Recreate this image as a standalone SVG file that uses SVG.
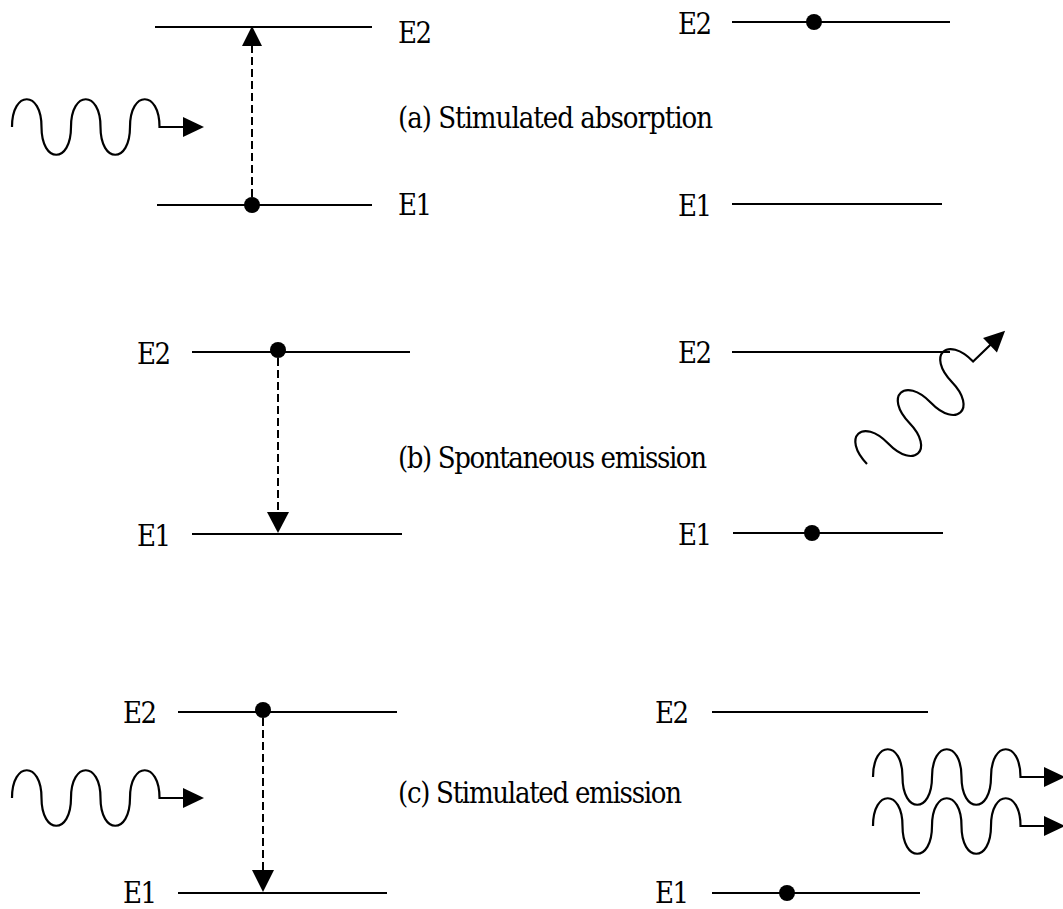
<svg xmlns="http://www.w3.org/2000/svg" xmlns:xlink="http://www.w3.org/1999/xlink" width="1063" height="909" viewBox="0 0 1063 909">
<style>
.lvl{stroke:#000;stroke-width:2;fill:none}
.dash{stroke:#000;stroke-width:2;stroke-dasharray:8 4;fill:none}
.wv{stroke:#000;stroke-width:2.2;fill:none}
.t{font-family:"DejaVu Serif Condensed","DejaVu Serif",serif;font-size:29px;fill:#000}
.dot{fill:#000}
.ah{fill:#000}
</style>
<defs>
<g id="wave">
<path class="wv" d="M0,0 C0,-37 29.5,-37 29.5,0 C29.5,37 59,37 59,0 C59,-37 88.5,-37 88.5,0 C88.5,37 118,37 118,0 C118,-37 147.5,-37 147.5,0 L172,0"/>
<polygon class="ah" points="171,-10 192,0 171,10"/>
</g>
</defs>
<rect width="1063" height="909" fill="#fff"/>

<g id="panel-a-before">
<line class="lvl" x1="155" y1="27" x2="372" y2="27"/>
<line class="lvl" x1="157" y1="205" x2="372" y2="205"/>
<text class="t" x="398" y="43" textLength="34">E2</text>
<text class="t" x="398" y="215" textLength="34">E1</text>
<circle class="dot" cx="252" cy="205" r="8"/>
</g>
<g id="panel-a-after">
<line class="lvl" x1="732" y1="22" x2="950" y2="22"/>
<line class="lvl" x1="732" y1="204" x2="942" y2="204"/>
<text class="t" x="678" y="34" textLength="34">E2</text>
<text class="t" x="678" y="216" textLength="34">E1</text>
<circle class="dot" cx="814" cy="22" r="8"/>
</g>
<text id="label-a" class="t" x="398" y="128" textLength="315">(a) Stimulated absorption</text>

<g id="panel-b-before">
<line class="lvl" x1="192" y1="352" x2="410" y2="352"/>
<line class="lvl" x1="192" y1="534" x2="402" y2="534"/>
<text class="t" x="137" y="364" textLength="34">E2</text>
<text class="t" x="137" y="546" textLength="34">E1</text>
<circle class="dot" cx="278" cy="350" r="8"/>
</g>
<g id="panel-b-after">
<line class="lvl" x1="732" y1="352" x2="950" y2="352"/>
<line class="lvl" x1="733" y1="533" x2="943" y2="533"/>
<text class="t" x="678" y="363" textLength="34">E2</text>
<text class="t" x="678" y="545" textLength="34">E1</text>
<circle class="dot" cx="812" cy="533" r="8"/>
</g>
<text id="label-b" class="t" x="398" y="468" textLength="309">(b) Spontaneous emission</text>

<g id="panel-c-before">
<line class="lvl" x1="178" y1="712" x2="397" y2="712"/>
<line class="lvl" x1="178" y1="893" x2="387" y2="893"/>
<text class="t" x="123" y="723" textLength="34">E2</text>
<text class="t" x="123" y="903" textLength="34">E1</text>
<circle class="dot" cx="263" cy="710" r="8"/>
</g>
<g id="panel-c-after">
<line class="lvl" x1="712" y1="712" x2="928" y2="712"/>
<line class="lvl" x1="712" y1="893" x2="920" y2="893"/>
<text class="t" x="655" y="723" textLength="34">E2</text>
<text class="t" x="655" y="903" textLength="34">E1</text>
<circle class="dot" cx="787" cy="893" r="8"/>
</g>
<text id="label-c" class="t" x="398" y="803" textLength="284">(c) Stimulated emission</text>

<g id="connectors">
<line class="dash" x1="252" y1="197" x2="252" y2="46"/>
<polygon class="ah" points="242,46 262,46 252,26"/>
<line class="dash" x1="278" y1="358" x2="278" y2="513"/>
<polygon class="ah" points="267,512 289,512 278,533"/>
<line class="dash" x1="263" y1="718" x2="263" y2="871"/>
<polygon class="ah" points="252,870 274,870 263,892"/>
<use xlink:href="#wave" transform="translate(12,127)"/>
<use xlink:href="#wave" transform="translate(867,464) rotate(-44)"/>
<use xlink:href="#wave" transform="translate(12,798)"/>
<use xlink:href="#wave" transform="translate(873,777)"/>
<use xlink:href="#wave" transform="translate(873,826)"/>
</g>
</svg>
